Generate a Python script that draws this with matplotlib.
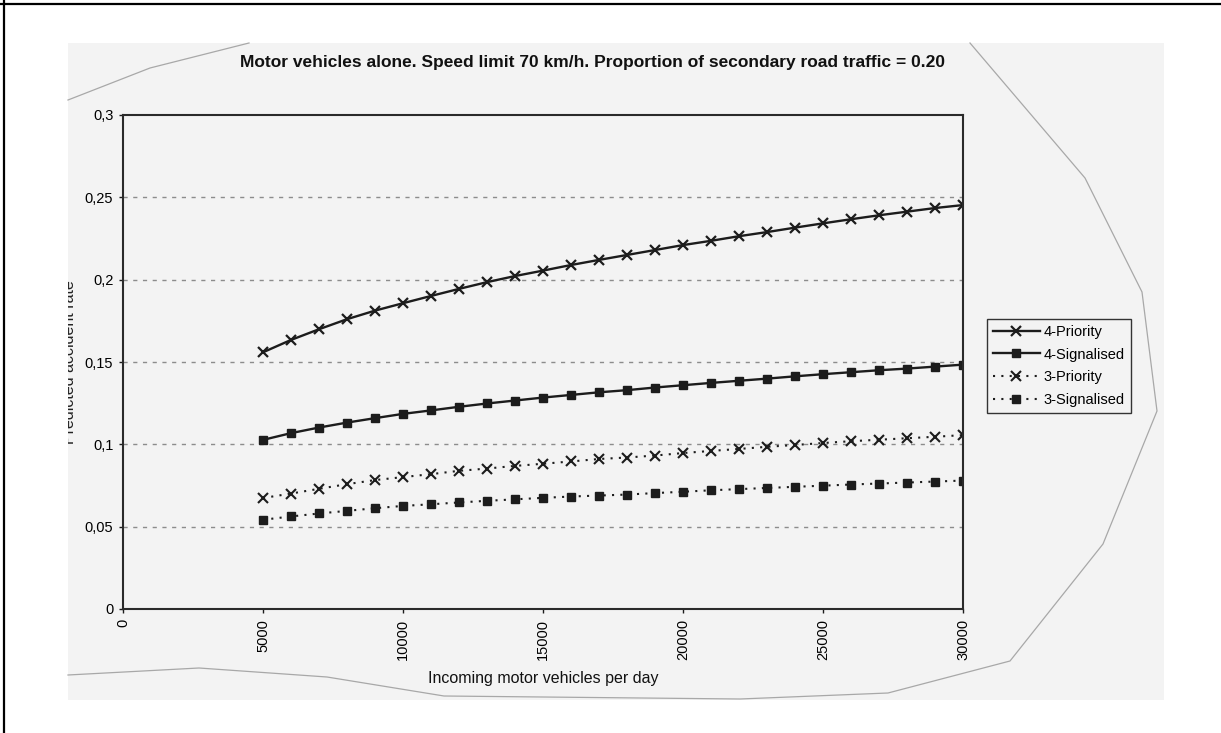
import matplotlib
matplotlib.use('Agg')
import matplotlib.pyplot as plt
from matplotlib.patches import Rectangle
from matplotlib.lines import Line2D

# canvas size in pixels
W, H = 1221, 733


def fx(x):
    return x / W


def fy(y):
    return 1 - y / H


vehicles = [5000, 6000, 7000, 8000, 9000, 10000, 11000, 12000, 13000,
            14000, 15000, 16000, 17000, 18000, 19000, 20000, 21000, 22000,
            23000, 24000, 25000, 26000, 27000, 28000, 29000, 30000]

priority_4 = [0.1559, 0.1634, 0.1699, 0.1760, 0.1812, 0.1857, 0.1901, 0.1944,
              0.1985, 0.2022, 0.2055, 0.2089, 0.2120, 0.2150, 0.2180, 0.2210,
              0.2236, 0.2264, 0.2289, 0.2316, 0.2342, 0.2367, 0.2391, 0.2413,
              0.2435, 0.2453]
signalised_4 = [0.1027, 0.1068, 0.1102, 0.1132, 0.1159, 0.1185, 0.1206, 0.1228,
                0.1248, 0.1266, 0.1284, 0.1300, 0.1316, 0.1329, 0.1345, 0.1359,
                0.1373, 0.1386, 0.1399, 0.1413, 0.1426, 0.1438, 0.1450, 0.1460,
                0.1472, 0.1484]
priority_3 = [0.0674, 0.0701, 0.0730, 0.0758, 0.0783, 0.0801, 0.0819, 0.0839,
              0.0853, 0.0869, 0.0882, 0.0896, 0.0911, 0.0920, 0.0932, 0.0947,
              0.0960, 0.0972, 0.0985, 0.0996, 0.1008, 0.1019, 0.1028, 0.1037,
              0.1046, 0.1056]
signalised_3 = [0.0542, 0.0562, 0.0580, 0.0596, 0.0612, 0.0626, 0.0636, 0.0647,
                0.0657, 0.0666, 0.0675, 0.0683, 0.0689, 0.0695, 0.0704, 0.0712,
                0.0721, 0.0728, 0.0735, 0.0742, 0.0749, 0.0756, 0.0762, 0.0768,
                0.0774, 0.0780]

x_ticks = [0, 5000, 10000, 15000, 20000, 25000, 30000]
x_tick_labels = ['0', '5000', '10000', '15000', '20000', '25000', '30000']
y_ticks = [0, 0.05, 0.1, 0.15, 0.2, 0.25, 0.3]
y_tick_labels = ['0', '0,05', '0,1', '0,15', '0,2', '0,25', '0,3']

title = 'Motor vehicles alone. Speed limit 70 km/h. Proportion of secondary road traffic = 0.20'

paper = '#f3f3f3'
ink = '#1c1c1c'
arial = ['Liberation Sans', 'DejaVu Sans']

fig = plt.figure(figsize=(W / 100, H / 100), dpi=100)
fig.patch.set_facecolor('white')

# scanned sheet
sheet = Rectangle((fx(68), fy(700)), fx(1164) - fx(68), fy(43) - fy(700),
                  transform=fig.transFigure, facecolor=paper, edgecolor='none', zorder=0)
fig.add_artist(sheet)

# page frame, top and left
fig.add_artist(Line2D([0, 1], [fy(4), fy(4)], transform=fig.transFigure, color='black', lw=1.6))
fig.add_artist(Line2D([fx(4), fx(4)], [0, 1], transform=fig.transFigure, color='black', lw=1.6))

# torn paper edges
edge_tl = [(68, 100), (150, 68), (249, 43)]
edge_r = [(970, 43), (1085, 178), (1142, 292), (1157, 411), (1103, 544), (1010, 661),
          (888, 693), (740, 699), (444, 696), (327, 677), (199, 668), (68, 675)]
for pts in (edge_tl, edge_r):
    fig.add_artist(Line2D([fx(p[0]) for p in pts], [fy(p[1]) for p in pts],
                          transform=fig.transFigure, color='#a8a8a8', lw=0.9, zorder=1))

ax = fig.add_axes([fx(123), fy(609), fx(963) - fx(123), fy(115) - fy(609)])
ax.set_facecolor(paper)
ax.set_zorder(2)

ax.plot(vehicles, priority_4, color=ink, lw=1.7, marker='x', ms=7, mew=1.6, label='4-Priority')
ax.plot(vehicles, signalised_4, color=ink, lw=1.7, marker='s', ms=6, label='4-Signalised')
ax.plot(vehicles, priority_3, color=ink, lw=1.5, ls=(0, (1, 3)), marker='x', ms=6.5, mew=1.5,
        label='3-Priority')
ax.plot(vehicles, signalised_3, color=ink, lw=1.5, ls=(0, (1, 3)), marker='s', ms=6,
        label='3-Signalised')

ax.set_xlim(0, 30000)
ax.set_ylim(0, 0.3)
ax.set_xticks(x_ticks)
ax.set_xticklabels(x_tick_labels, rotation=90, fontfamily=arial, fontsize=10.5)
ax.set_yticks(y_ticks)
ax.set_yticklabels(y_tick_labels, fontfamily=arial, fontsize=10.5)
ax.tick_params(axis='both', direction='out', length=3, width=1, color=ink, pad=4)

for v in y_ticks[1:-1]:
    ax.axhline(v, color='#8c8c8c', lw=1, ls=(0, (3, 4)), zorder=1)

for s in ax.spines.values():
    s.set_color('#2a2a2a')
    s.set_linewidth(1.5)

fig.text(fx(592), fy(63), title, ha='center', va='center', fontsize=12.5,
         fontweight='bold', fontfamily=arial, color='#111111')
fig.text(fx(543), fy(678), 'Incoming motor vehicles per day', ha='center', va='center',
         fontsize=11.5, fontfamily=arial, color='#111111')

# y label sits on the sheet edge and is cut off by it
ylab = fig.text(fx(77), fy(362), 'Predicted accident rate', rotation=90, ha='right', va='center',
                fontsize=11.5, fontfamily=arial, color='#222222')
ylab.set_clip_path(sheet)

leg = ax.legend(loc='upper left', bbox_to_anchor=(fx(987), fy(319)), bbox_transform=fig.transFigure,
                prop={'family': arial, 'size': 10.5}, frameon=True, fancybox=False,
                edgecolor='#333333', facecolor=paper, framealpha=1, borderaxespad=0,
                borderpad=0.4, handlelength=3.2, handletextpad=0.3, labelspacing=0.6,
                numpoints=1)
leg.get_frame().set_linewidth(1)

fig.savefig('out.png', dpi=100, facecolor='white')
